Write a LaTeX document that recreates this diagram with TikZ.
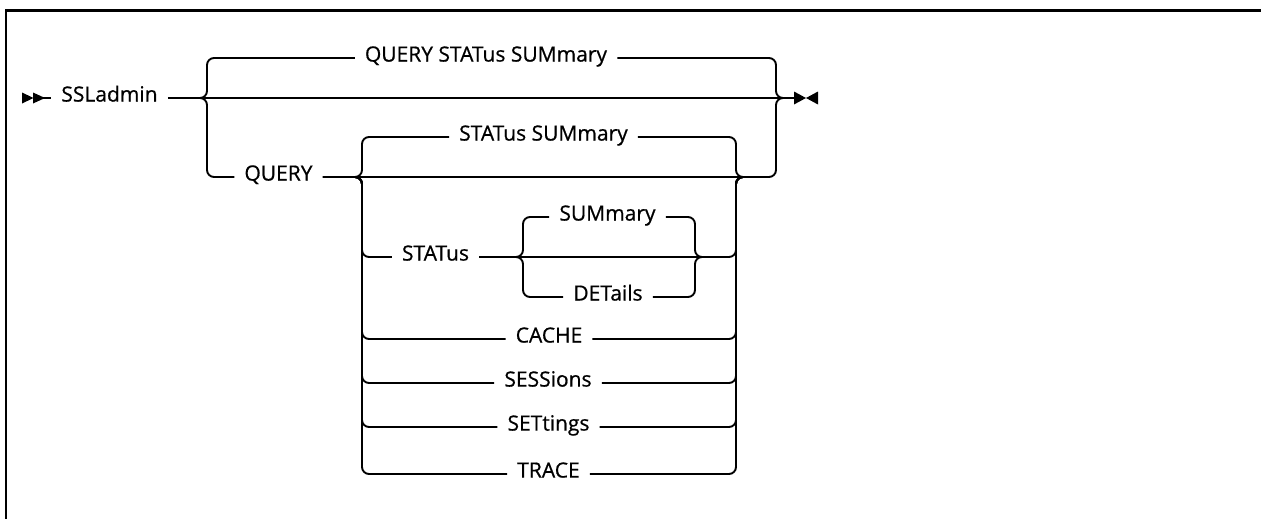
\documentclass[tikz,border=0pt]{standalone}
\usepackage{fontspec}
\setmainfont{Open Sans}[FakeBold=0.7]

\begin{document}
\begin{tikzpicture}[x=1pt, y=-1pt,
  kw/.style={inner xsep=10pt, inner ysep=0pt, text height=0.714em, text depth=0pt, font=\fontsize{21}{25}\selectfont},
  rail/.style={line width=1.9pt, rounded corners=7pt},
]
  \useasboundingbox (0,0) rectangle (1261,519);
  \draw[line width=2.4pt] (1261,10.5) -- (6.2,10.5) -- (6.2,519);

  % start and end marks
  \fill (22,92.5) -- (33.5,98) -- (22,103.5) -- cycle;
  \fill (33,92.5) -- (45,98) -- (33,103.5) -- cycle;
  \fill (794,91.5) -- (806,98) -- (794,104.5) -- cycle;
  \fill (818,91.5) -- (806,98) -- (818,104.5) -- cycle;
  \coordinate (start) at (43,98);
  \coordinate (stop) at (796,98);

  \node[kw] (ssladmin) at (109.5,98) {SSLadmin};
  \node[kw] (qss) at (486,58) {QUERY STATus SUMmary};
  \node[kw] (query) at (278.5,177) {QUERY};
  \node[kw] (statsum) at (543.5,137) {STATus SUMmary};
  \node[kw] (status) at (435.5,257) {STATus};
  \node[kw] (summary) at (607.5,217) {SUMmary};
  \node[kw] (details) at (608,297) {DETails};
  \node[kw] (cache) at (549,339) {CACHE};
  \node[kw] (sessions) at (548,383) {SESSions};
  \node[kw] (settings) at (548.5,427) {SETtings};
  \node[kw] (trace) at (548.5,474) {TRACE};

  \coordinate (f1) at (200,98);  \coordinate (j1) at (783,98);
  \coordinate (f2) at (355,177); \coordinate (j2) at (743,177);
  \coordinate (f3) at (516,257); \coordinate (j3) at (702,257);

  % outer choice
  \draw[rail] (start) -- (ssladmin.west);
  \draw[rail] (ssladmin.east) -- (f1) -- (j1) -- (stop);
  \draw[rail] (f1) -- ++(7,0) |- (qss.west);
  \draw[rail] (qss.east) -| ([xshift=-7pt]j1) -- (j1);
  \draw[rail] (f1) -- ++(7,0) |- (query.west);
  \draw[rail] (query.east) -- (f2) -- (j2) -| ([xshift=-7pt]j1) -- (j1);

  % QUERY choices
  \draw[rail] (f2) -- ++(7,0) |- (statsum.west);
  \draw[rail] (statsum.east) -| ([xshift=-7pt]j2) -- (j2);
  \draw[rail] (f2) -- ++(7,0) |- (status.west);
  \draw[rail] (status.east) -- (f3) -- (j3) -| ([xshift=-7pt]j2) -- (j2);
  \draw[rail] (f2) -- ++(7,0) |- (cache.west);
  \draw[rail] (cache.east) -| ([xshift=-7pt]j2) -- (j2);
  \draw[rail] (f2) -- ++(7,0) |- (sessions.west);
  \draw[rail] (sessions.east) -| ([xshift=-7pt]j2) -- (j2);
  \draw[rail] (f2) -- ++(7,0) |- (settings.west);
  \draw[rail] (settings.east) -| ([xshift=-7pt]j2) -- (j2);
  \draw[rail] (f2) -- ++(7,0) |- (trace.west);
  \draw[rail] (trace.east) -| ([xshift=-7pt]j2) -- (j2);

  % STATus choices
  \draw[rail] (f3) -- ++(7,0) |- (summary.west);
  \draw[rail] (summary.east) -| ([xshift=-7pt]j3) -- (j3);
  \draw[rail] (f3) -- ++(7,0) |- (details.west);
  \draw[rail] (details.east) -| ([xshift=-7pt]j3) -- (j3);
\end{tikzpicture}
\end{document}
